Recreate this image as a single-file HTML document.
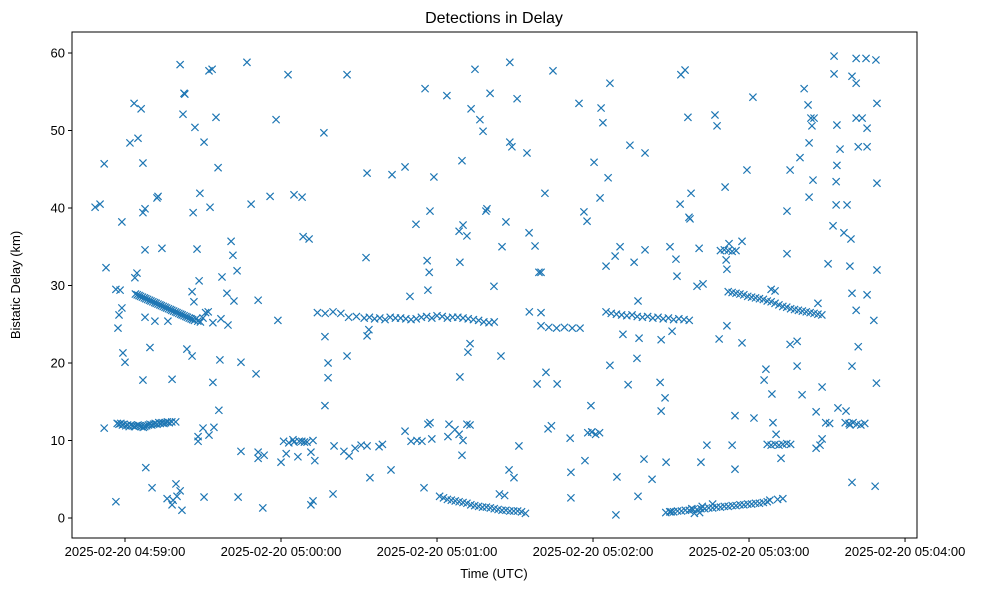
<!DOCTYPE html>
<html><head><meta charset="utf-8"><style>
html,body{margin:0;padding:0;background:#fff;}
svg{display:block;font-family:"Liberation Sans","DejaVu Sans",sans-serif;}
</style></head><body>
<svg id="chart" width="989" height="590" viewBox="0 0 989 590">
<rect width="989" height="590" fill="#fff"/>
<text x="494" y="23" text-anchor="middle" font-size="16" fill="#000">Detections in Delay</text>
<text x="494" y="578" text-anchor="middle" font-size="13" fill="#000">Time (UTC)</text>
<text x="20" y="285" text-anchor="middle" font-size="13" fill="#000" transform="rotate(-90 20 285)">Bistatic Delay (km)</text>
<g id="marks"></g>
<g id="axes"></g>
<rect x="72" y="32" width="845" height="506" fill="none" stroke="#000" stroke-width="1"/>
</svg>
<script>
// seconds after 2025-02-20 04:59:00, bistatic delay km
const yTicks=[0,10,20,30,40,50,60];
const xTickSeconds=[0,60,120,180,240,300];
const xTickLabels=["2025-02-20 04:59:00","2025-02-20 05:00:00","2025-02-20 05:01:00","2025-02-20 05:02:00","2025-02-20 05:03:00","2025-02-20 05:04:00"];
const trackTimes=[-3,-2.3,-1.6,-1,-0.4,0.3,1,1.6,2.3,3,3.6,4.3,5,5.6,6.3,7,7.6,8.3,9,9.6,10.3,11,11.6,12.3,13,13.6,14.3,15,15.6,16.3,17,18,19.5,
4,4.7,5.4,6,6.7,7.4,8,8.7,9.4,10,10.7,11.4,12,12.7,13.4,14,14.7,15.4,16,16.7,17.4,18,18.7,19.4,20,20.7,21.4,22,22.7,23.4,24,24.7,25.4,26,26.7,27.4,28,29,30,31,32,
74,77,80,83,86,89,92,94,96,98,100,102,104,106,108,110,112,114,116,118,120,122,124,126,128,130,132,134,136,138,140,142,144,146,
121,122.5,124,125.5,127,128.5,130,131.5,133,134.5,136,137.5,139,140.5,142,143.5,145,146.5,148,149.5,151,152.5,154,155.5,160,
185,187,189,191,193,195,197,199,201,203,205,207,209,211,213,215,217,219,221,
208,209.5,211,212.5,214,215.5,217,218.5,220,221.5,223,224.5,226,227.5,229,230.5,232,233.5,235,236.5,238,239.5,241,242.5,244,245.5,247,248.5,250,
232,233.5,235,236.5,238,239.5,241,242.5,244,245.5,247,248.5,250,251.5,253,254.5,256,257.5,259,260.5,262,263.5,265,266.5,268,269.5,271,
277,278.5,280,281.5,283,284.5,288,289];
const trackDelays=[12.2,12.1,12.2,12,12.1,11.9,12,11.8,12,11.9,11.8,11.9,12,11.9,11.8,11.7,11.8,11.9,12,12.1,12,12.1,12.2,12.1,12.3,12.2,12.3,12.2,12.3,12.4,12.3,12.4,12.4,
28.9,28.8,28.7,28.6,28.5,28.4,28.3,28.2,28.1,28,27.9,27.8,27.7,27.6,27.5,27.4,27.3,27.2,27.1,27,26.9,26.8,26.7,26.6,26.5,26.4,26.3,26.2,26.1,26,25.9,25.8,25.7,25.6,25.5,25.7,25.4,25.3,25.8,
26.5,26.6,26.5,26.4,26.6,26.4,25.9,26,25.8,25.9,25.7,25.8,25.6,25.9,25.8,25.8,25.7,25.6,25.7,25.9,26,25.8,26.1,26,25.8,25.9,25.9,25.8,25.7,25.6,25.5,25.3,25.2,25.3,
3.1,2.9,2.8,2.6,2.4,2.3,2.2,2.1,2,1.9,1.7,1.6,1.5,1.4,1.4,1.3,1.2,1.1,1,1,0.9,0.9,0.9,0.8,0.6,
26.6,26.5,26.6,26.4,26.3,26.2,26.1,26.2,26,25.9,26,25.8,25.9,25.7,25.8,25.6,25.7,25.6,25.5,
0.6,0.7,0.7,0.8,0.8,0.9,0.9,1,1,1.1,1.1,1.2,1.2,1.3,1.3,1.4,1.4,1.5,1.5,1.6,1.6,1.7,1.7,1.8,1.8,1.9,1.9,2,2.1,
29.5,29.3,29.2,29.1,29,28.9,28.8,28.6,28.5,28.4,28.3,28.2,28,27.9,27.7,27.5,27.3,27.2,27,26.9,26.8,26.7,26.6,26.5,26.4,26.3,26.2,
12.3,12.2,12.3,12.2,12.3,12.1,12,12.2];
const scatterTimes=[-11.5,-9.6,-8,-7.3,-8,-3.5,-1.9,-3.5,-2.3,-1.2,-2.7,-1.2,-0.8,0,1.9,3.5,3.8,4.6,5,6.2,7.7,9.6,6.9,7.7,6.9,8,10.4,6.9,7.7,12.3,12.7,14.2,16.2,16.5,11.5,18.1,20,18.5,18.1,19.6,21.2,21.9,23.8,25.8,21.2,22.7,23,22.3,26.9,26.2,28.5,25.8,26.5,27.7,28.8,30.4,32.3,33.5,32.7,35.8,33.8,36.5,33.8,36.9,34.2,36.1,28.1,30,28.1,30.4,32.3,35,37.3,39.2,39.6,41.5,41.9,40.8,43.5,44.6,43.1,46.9,48.5,50.4,51.2,51.2,51.2,44.6,53,55.8,58.1,58.8,62.7,65,68.1,68.5,72.3,71.5,70.8,78.1,78.1,76.9,76.5,80,85.4,85.4,93.1,93.8,92.7,94.2,93.1,102.7,109.6,111.9,107.7,115.4,116.2,117,115,116.5,117.3,118.8,123.8,128.8,129.6,130,131.5,131.9,132.7,128.8,133.1,128.5,134.6,136.5,137.7,139.2,138.8,140.4,141.9,144.6,145,146.5,148,148,148.8,149.6,151.5,147.7,150.8,154.6,155.4,157.7,159.2,160,161.9,166.2,158.5,162.7,164,161.5,164.6,171.2,171.5,171.5,177.7,176.5,174.6,176.9,179.6,179.2,180.4,182.7,183.1,183.8,185.8,186.5,186.5,185,188.8,188.5,189.2,190.4,191.5,193.5,194.2,195.8,197.3,196.9,197.7,197.3,199.6,200,200,202.7,206.2,206.2,205.8,207.7,208.1,210.4,211.9,212.3,213.8,213.5,209.6,215.4,216.5,217.3,217.7,216.9,220.8,222.3,220,221.5,223.8,227.7,226.9,230.8,231.5,231.2,228.5,231.5,232.3,234.6,234.6,233.5,237.3,237.3,239.2,241.5,241.9,245.8,246.5,248.8,249.2,250.4,252.3,254.6,255.8,254.6,255.8,258.5,258.5,260.4,259.6,261.2,262.7,263.1,263.1,263.8,264.2,265,265.8,267.3,265.8,264.6,266.5,268.1,268.1,270.4,272.3,273.5,273.5,272.7,272.7,273.8,274.2,273.8,275,277.7,276.5,278.8,279.2,279.6,281.2,282,279.6,279.6,277.3,278.8,279.6,281.2,281.2,281.2,282,283.5,285,285.4,285.4,285.4,288.8,289.2,289.2,289.2,288.5,
53.5,60,62,64.6,66.5,68,70,71.5,72.3,73,61,63,65,67,69,76.9,80.4,84.2,86.2,88.5,90.8,93.1,97.7,99,102.3,107.7,110,112.3,114.2,116.5,117.3,118,124.2,124.6,126.9,128.5,129.6,131.5,132.7,130,
160,163,166,169,172,175,178,179.5,181,182.5,229,230.5,232,233.5,235,247,248.5,250,251.5,253,254.5,256,248,251,253,210,218,222,226];
const scatterDelays=[25.5,17.4,40.1,40.5,11.6,32.3,45.7,2.1,29.4,29.5,26.2,27.1,24.5,38.2,21.3,20.1,48.4,53.5,31,31.6,49,52.8,25.9,22,17.8,39.9,39.4,6.5,3.9,45.8,34.6,41.3,41.5,34.8,2.5,25.4,25.4,17.9,2.8,2.3,1.7,4.4,3.5,1,21.8,20.9,58.5,54.8,54.7,52.1,50.4,39.4,30.6,29.2,27.9,34.7,41.9,48.5,57.7,57.9,40.1,45.2,17.5,20.4,25.2,25.7,11.7,13.9,10.5,11.6,9.9,2.7,10.7,51.7,31.1,29,24.9,33.9,28,35.7,2.7,20.1,31.9,58.8,40.5,18.6,28.1,7.7,8.5,8.6,1.3,41.5,51.4,25.5,57.2,41.7,41.4,36.3,2.2,1.7,36,20,18.1,23.4,49.7,3.1,57.2,20.9,23.5,24.3,33.6,5.2,44.5,44.3,28.6,37.9,45.3,55.4,33.2,31.7,3.9,29.4,39.6,44,54.5,33,46.1,37.8,36.4,21.4,22.5,18.2,52.8,37,57.9,51.4,49.9,39.9,39.6,54.8,29.9,20.9,35,38.2,58.8,48.5,47.9,5.2,9.3,6.2,54.1,47.1,36.8,35.1,31.7,31.7,18.8,17.3,17.3,11.5,11.9,41.9,57.7,10.3,2.6,5.9,38.3,39.5,53.5,7.4,11.1,14.5,45.9,41.3,52.9,51,43.9,19.7,56.1,32.5,0.4,33.8,5.3,35,23.7,17.2,48.1,33,2.8,20.6,23.2,28,7.6,47.1,34.6,5,23,13.8,17.5,15.5,7.2,24.1,33.4,31.2,57.2,40.5,35,57.8,51.7,38.6,41.9,38.8,34.8,30.2,29.9,7.2,9.4,50.6,52,42.7,32.1,33.3,23.1,24.8,35.4,6.3,13.2,9.4,22.6,35.7,44.9,54.3,12.9,17.8,19.2,16,12.3,10.8,7.7,34.1,44.9,39.6,22.4,22.8,19.6,15.9,46.5,55.4,53.3,48.4,41.4,51.6,50.6,51.6,13.7,9.4,9,43.6,27.7,16.9,10.2,32.8,37.7,43.4,40.4,57.3,59.6,45.5,14.2,50.7,47.6,40.4,36.8,32.5,36,29,26.8,22.1,19.6,4.6,13.8,12,57,56.1,51.6,59.3,47.9,51.6,59.3,50.3,47.9,28.8,59.1,53.5,43.2,32,4.1,
8.1,7.2,8.3,10.1,7.9,9.9,9.8,8.5,10,7.4,9.9,9.7,9.8,9.9,9.8,14.5,9.3,8.6,8,9,9.4,9.3,9.2,9.5,6.2,11.2,9.9,10,9.9,12.1,12.3,10.2,10.5,12.1,11.4,10.8,8.1,12.1,12,10,
24.8,24.6,24.5,24.6,24.5,24.5,11,11.1,10.8,11,34.5,34.6,34.5,34.4,34.5,9.5,9.4,9.5,9.4,9.5,9.6,9.5,2.3,2.4,2.5,0.8,1.2,1.5,1.8];
const times=trackTimes.concat(scatterTimes);
const delays=trackDelays.concat(scatterDelays);

const L=72,R=917,T=32,B=538;
const tMin=-20.385,tMax=304.6,dMin=-2.58,dMax=62.71;
function xScale(t){return L+(t-tMin)/(tMax-tMin)*(R-L);}
function yScale(d){return B-(d-dMin)/(dMax-dMin)*(B-T);}
const NS="http://www.w3.org/2000/svg";
const marks=document.getElementById('marks');
const axes=document.getElementById('axes');
for(let i=0;i<times.length;i++){
  const x=xScale(times[i]),y=yScale(delays[i]),s=3.6;
  const p=document.createElementNS(NS,'path');
  p.setAttribute('d','M'+(x-s)+' '+(y-s)+'L'+(x+s)+' '+(y+s)+'M'+(x-s)+' '+(y+s)+'L'+(x+s)+' '+(y-s));
  p.setAttribute('stroke','#1f77b4');
  p.setAttribute('stroke-width','1.2');
  p.setAttribute('fill','none');
  
  
  marks.appendChild(p);
}
yTicks.forEach(v=>{
  const y=yScale(v);
  const l=document.createElementNS(NS,'line');
  l.setAttribute('x1',L-4);l.setAttribute('x2',L);l.setAttribute('y1',y);l.setAttribute('y2',y);
  l.setAttribute('stroke','#000');
  
  
  axes.appendChild(l);
  const t=document.createElementNS(NS,'text');
  t.setAttribute('x',L-7);t.setAttribute('y',y+4.5);t.setAttribute('text-anchor','end');t.setAttribute('font-size','13');
  t.textContent=v;
  
  
  axes.appendChild(t);
});
xTickSeconds.forEach((v,i)=>{
  const x=xScale(v);
  const l=document.createElementNS(NS,'line');
  l.setAttribute('x1',x);l.setAttribute('x2',x);l.setAttribute('y1',B);l.setAttribute('y2',B+4);
  l.setAttribute('stroke','#000');
  
  
  axes.appendChild(l);
  const t=document.createElementNS(NS,'text');
  t.setAttribute('x',x);t.setAttribute('y',B+18);t.setAttribute('text-anchor','middle');t.setAttribute('font-size','13');
  t.textContent=xTickLabels[i];
  
  
  axes.appendChild(t);
});
</script>
</body></html>
